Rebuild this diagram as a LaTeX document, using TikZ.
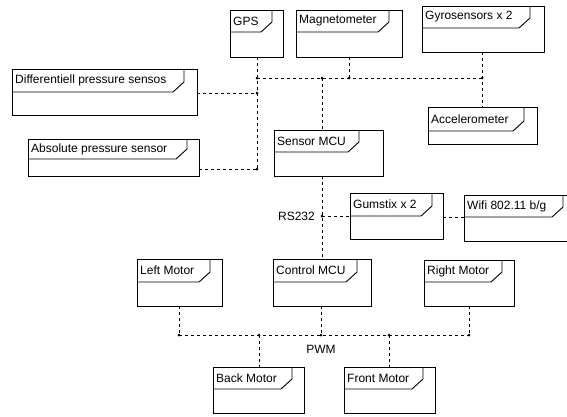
\documentclass[tikz,border=0pt]{standalone}
\usepackage{fontspec}
\setmainfont{Liberation Sans}
\begin{document}
\begin{tikzpicture}[x=1pt,y=-1pt,
  frame/.style={draw=black, line width=0.9pt, inner sep=0pt, outer sep=0pt, rectangle},
  frameline/.style={draw=black, line width=0.9pt},
  title/.style={inner xsep=3pt, inner ysep=0pt, anchor=west, text=black,
    font=\fontsize{12}{14}\selectfont},
  wire/.style={draw=black, line width=0.8pt, dash pattern=on 3pt off 3pt},
  joint/.style={fill=black},
  tag/.style={inner sep=0pt, text=black, font=\fontsize{12}{14}\selectfont}]

% frame block with a title tab: name, left, top, right, bottom, tab right, tab bottom, title
\newcommand{\frameblock}[8]{%
  \node[frame, anchor=north west, minimum width={#4-#2}, minimum height={#5-#3}] (#1) at (#2,#3) {};
  \draw[frameline] (#2,#7) -- (#6-11,#7) -- (#6,#7-10) -- (#6,#3);
  \node[title] at (#2,{(#3+#7)/2}) {#8};
}

\useasboundingbox (0,0) rectangle (567,416);

% sensors
\frameblock{gps}{230}{10}{283}{57}{272}{32}{GPS}
\frameblock{mag}{296}{10}{402}{57}{389}{32}{Magnetometer}
\frameblock{gyro}{422}{6}{544}{52}{530}{28}{Gyrosensors x 2}
\frameblock{acc}{428}{107}{537}{144}{524}{131}{Accelerometer}
\frameblock{diff}{12}{69}{197}{115}{184}{92}{Differentiell pressure sensos}
\frameblock{abs}{28}{139}{199}{176}{187}{159}{Absolute pressure sensor}

% processors and radio
\frameblock{smcu}{274}{130}{383}{176}{359}{152}{Sensor MCU}
\frameblock{gum}{350}{193}{443}{239}{432}{216}{Gumstix x 2}
\frameblock{wifi}{464}{195}{570}{241}{563}{217}{Wifi 802.11 b/g}
\frameblock{cmcu}{273}{259}{371}{306}{357}{282}{Control MCU}

% motors
\frameblock{lmot}{137}{259}{222}{306}{210}{282}{Left Motor}
\frameblock{rmot}{424}{260}{514}{306}{502}{282}{Right Motor}
\frameblock{bmot}{213}{367}{304}{413}{292}{389}{Back Motor}
\frameblock{fmot}{344}{367}{435}{413}{423}{389}{Front Motor}

% sensor bus junctions
\coordinate (jg) at (257,78);
\coordinate (js) at (322,78);
\coordinate (jm) at (349,78);
\coordinate (jy) at (482,78);
\coordinate (jd) at (257,93);
\coordinate (ja) at (257,169);

\draw[wire] (jg |- gps.south) -- (ja);
\draw[wire] (jg) -- (jy);
\draw[wire] (jm |- mag.south) -- (jm);
\draw[wire] (jy |- gyro.south) -- (jy |- acc.north);
\draw[wire] (js) -- (js |- smcu.north);
\draw[wire] (diff.east |- jd) -- (jd);
\draw[wire] (abs.east |- ja) -- (ja);

% serial link
\coordinate (jr) at (322,216);
\draw[wire] (jr |- smcu.south) -- (jr |- cmcu.north);
\draw[wire] (jr) -- (gum.west |- jr);
\draw[wire] (gum.east |- 0,217) -- (wifi.west |- 0,217);
\node[tag, anchor=east] (rs) at (315,216) {RS232};

% PWM bus
\coordinate (pl) at (179,335);
\coordinate (pb) at (259,335);
\coordinate (pc) at (321,335);
\coordinate (pf) at (389,335);
\coordinate (pr) at (469,335);
\draw[wire] (pl) -- (pr);
\draw[wire] (pl |- lmot.south) -- (pl);
\draw[wire] (pr |- rmot.south) -- (pr);
\draw[wire] (pc |- cmcu.south) -- (pc);
\draw[wire] (pb) -- (pb |- bmot.north);
\draw[wire] (pf) -- (pf |- fmot.north);
\node[tag] (pwm) at (321,349) {PWM};

% junction dots
\foreach \j in {jg,js,jm,jy,jd,ja,jr,pl,pb,pc,pf,pr}
  \fill[joint] (\j) circle (1.5);
\end{tikzpicture}
\end{document}
